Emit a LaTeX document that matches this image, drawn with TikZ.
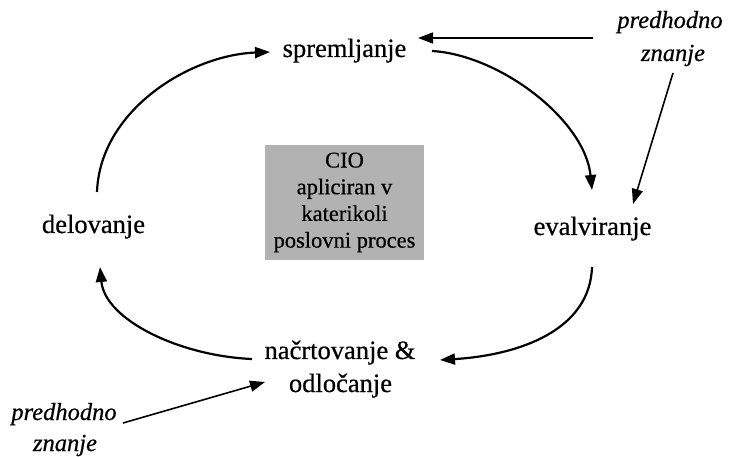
\documentclass[tikz,border=0pt]{standalone}
\usepackage{fontspec}
\setmainfont[FakeBold=0.6]{Liberation Serif}
\usetikzlibrary{arrows.meta,calc}
\definecolor{boxgray}{RGB}{178,178,178}
\tikzset{
  lab/.style={inner sep=0pt, anchor=base, font=\fontsize{26.5}{33}\selectfont},
  know/.style={inner sep=0pt, anchor=base, font=\fontsize{24.5}{33}\selectfont\itshape},
  ciobox/.style={fill=boxgray, inner sep=0pt, minimum width=159pt, minimum height=115pt,
    align=center, font=\fontsize{22.5}{26.7}\selectfont},
  cyc/.style={line width=2.2pt, -{Triangle[length=15pt,width=11pt]}},
  inp/.style={line width=1.6pt, -{Triangle[length=15pt,width=11pt]}},
}
\begin{document}
\begin{tikzpicture}[x=1pt,y=-1pt]
\useasboundingbox (0,0) rectangle (729,457);
% main stages
\node[lab] (sprem) at (344.5,57) {spremljanje};
\node[lab] (eval) at (592.5,235) {evalviranje};
\node[lab] (delo) at (93.5,233) {delovanje};
\node[lab] (nac) at (340,359) {načrtovanje \&};
\node[lab] (odl) at (340.5,392) {odločanje};
% centre box
\node[ciobox] (cio) at (344.5,202.5) {CIO\\apliciran v\\katerikoli\\poslovni proces};
% prior knowledge labels
\node[know] (pk1) at (670,28) {predhodno};
\node[know] (pk2) at (673,61) {znanje};
\node[know] (pk3) at (64,420) {predhodno};
\node[know] (pk4) at (65,451) {znanje};
% cycle arrows
\draw[cyc] ($(delo.base)+(3.5,-41)$) .. controls +(3,-82) and +(-80,3) .. ($(sprem.base)+(-74.5,-5)$);
\draw[cyc] ($(sprem.base)+(87.5,-6)$) .. controls +(68,4) and +(-7,-70) .. ($(eval.base)+(-0.5,-45)$);
\draw[cyc] ($(eval.base)+(-0.5,32)$) .. controls +(-2,63) and +(80,-5) .. ($(nac.base)+(100,1)$);
\draw[cyc] ($(nac.base)+(-88,0)$) .. controls +(-72,-3) and +(5,53) .. ($(delo.base)+(6.5,34)$);
% prior knowledge arrows
\draw[inp] ($(pk1.base)+(-77,10)$) -- ($(sprem.base)+(73.5,-19)$);
\draw[inp] ($(pk2.base)+(0,12)$) -- ($(eval.base)+(40.5,-31)$);
\draw[inp] ($(pk3.base)+(59,3)$) -- ($(odl.base)+(-75.5,-10)$);
\end{tikzpicture}
\end{document}
